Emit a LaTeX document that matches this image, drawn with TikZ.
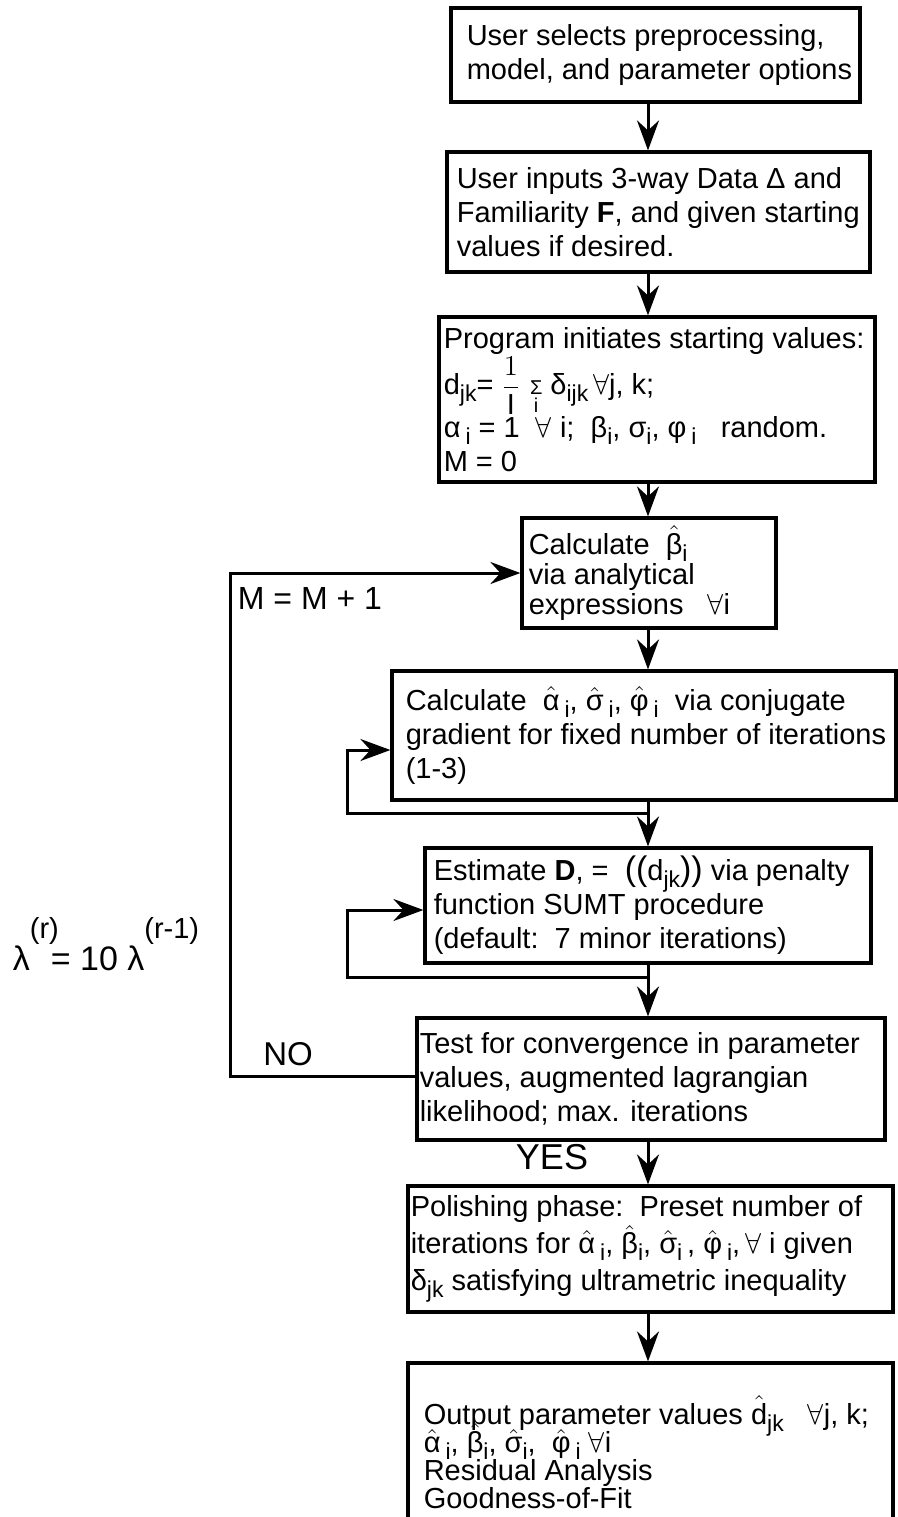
\documentclass[tikz,border=0pt]{standalone}
\usepackage{fontspec}
\setmainfont{Liberation Sans}
\usepackage{tikz}
\usetikzlibrary{arrows.meta,positioning}

\newcommand{\fa}{$\forall$}
\newcommand{\hatg}[1]{$\hat{\mbox{#1}}$}
\newcommand{\sbs}[1]{\raisebox{-3.5pt}{\fontsize{11.5}{11.5}\selectfont #1}}
\newcommand{\sbsp}[1]{\hspace{2.5pt}\sbs{#1}}
\newcommand{\supr}[1]{\raisebox{16pt}{\fontsize{14.5}{14.5}\selectfont #1}}

\tikzset{
  stage/.style={draw, line width=1.6pt, inner sep=0pt},
  stagetext/.style={inner sep=0pt, align=left, font=\fontsize{14.5}{17}\selectfont},
  flow/.style={line width=1.5pt, -{Stealth[length=15pt, width=11pt, inset=5pt]}},
}

\begin{document}
\begin{tikzpicture}[x=0.5pt, y=-0.5pt]
  \clip (0,0) rectangle (898,1517);
  \fill[white] (0,0) rectangle (898,1517);

  % Boxes of the main chain
  \node[stage, minimum width=204.5pt, minimum height=47pt] (b1) at (655.5,55) {};
  \node[stagetext, right=8.5pt of b1.west] (t1) {User selects preprocessing,\\model, and parameter options};

  \node[stage, minimum width=211.5pt, minimum height=60pt] (b2) at (658.5,212) {};
  \node[stagetext, right=5.5pt of b2.west] (t2) {User inputs 3-way Data Δ and\\Familiarity \textbf{F}, and given starting\\values if desired.};

  \node[stage, minimum width=218pt, minimum height=82.5pt] (b3) at (657,399.5) {};
  \node[stagetext, right=3pt of b3.west] (t3) {Program initiates starting values:\\
    d\sbs{jk}= $\displaystyle\frac{1}{\mathrm{I}}\,\mathop{\mbox{\fontsize{10}{10}\selectfont Σ}}\limits_{\mbox{\fontsize{10}{10}\selectfont i}}$ δ\sbs{ijk}\,\fa j, k;\\
    α\sbsp{i} = 1\ \ \fa{} i;\ \ β\sbs{i}, σ\sbs{i}, φ\sbsp{i}\ \ \ random.\\
    M = 0};

  \node[stage, minimum width=127pt, minimum height=55pt] (b4) at (649,573) {};
  \node[stagetext, right=4pt of b4.west, font=\fontsize{14.5}{15}\selectfont] (t4) {Calculate\ \ \hatg{β}\sbs{i}\\via analytical\\expressions\ \ \ \fa i};

  \node[stage, minimum width=252pt, minimum height=64.5pt] (b5) at (644,735.5) {};
  \node[stagetext, right=7.5pt of b5.west] (t5) {Calculate\ \ \hatg{α}\sbsp{i}, \hatg{σ}\sbsp{i}, \hatg{φ}\sbsp{i}\ \ via conjugate\\gradient for fixed number of iterations\\(1-3)};

  \node[stage, minimum width=223pt, minimum height=57.5pt] (b6) at (648,905.5) {};
  \node[stagetext, right=5pt of b6.west] (t6) {Estimate \textbf{D}, =\ \ {\fontsize{17}{17}\selectfont((}d\sbs{jk}{\fontsize{17}{17}\selectfont))} via penalty\\function SUMT procedure\\(default:\ \ 7 minor iterations)};

  \node[stage, minimum width=234pt, minimum height=61pt] (b7) at (651,1079) {};
  \node[stagetext, right=2pt of b7.west] (t7) {Test for convergence in parameter\\values, augmented lagrangian\\likelihood; max. iterations};

  \node[stage, minimum width=242.5pt, minimum height=63pt] (b8) at (650.5,1249) {};
  \node[stagetext, right=2pt of b8.west, font=\fontsize{14.5}{18.5}\selectfont] (t8) {Polishing phase:\ \ Preset number of\\iterations for \hatg{α}\sbsp{i},\ \hatg{β}\sbs{i},\ \hatg{σ}\sbs{i}\,, \hatg{φ}\sbsp{i},\,\fa{} i given\\δ\sbs{jk} satisfying ultrametric inequality};

  \node[stage, minimum width=242.5pt, minimum height=88.5pt] (b9) at (650.5,1451.5) {};
  \node[stagetext, below right=17pt and 8.5pt of b9.north west, anchor=north west,
        font={\fontsize{14.5}{14}\selectfont\lineskiplimit=-20pt}] (t9) {Output parameter values \hatg{d}\sbs{jk}\ \ \ \fa j, k;\\
    \hatg{α}\sbsp{i}, \hatg{β}\sbs{i},\ \hatg{σ}\sbs{i},\ \ \hatg{φ}\sbsp{i} \fa i\\
    Residual Analysis\\Goodness-of-Fit};

  % Side labels
  \node[stagetext, font=\fontsize{16}{18}\selectfont] (inc) at (310,598) {M = M + 1};
  \node[stagetext, font=\fontsize{16.5}{18}\selectfont] (no) at (288,1054) {NO};
  \node[stagetext, font=\fontsize{18}{20}\selectfont] (yes) at (552,1157) {YES};
  \node[stagetext, font=\fontsize{17}{18}\selectfont] (lam) at (106,944) {λ\supr{(r)}\hspace{-4pt}= 10 λ\supr{(r-1)}};

  % Main chain arrows
  \coordinate (ax) at (648,0);
  \draw[flow] (b1.south -| ax) -- (b2.north -| ax);
  \draw[flow] (b2.south -| ax) -- (b3.north -| ax);
  \draw[flow] (b3.south -| ax) -- (b4.north -| ax);
  \draw[flow] (b4.south -| ax) -- (b5.north -| ax);
  \draw[flow] (b5.south -| ax) -- (b6.north -| ax);
  \draw[flow] (b6.south -| ax) -- (b7.north -| ax);
  \draw[flow] (b7.south -| ax) -- (b8.north -| ax);
  \draw[flow] (b8.south -| ax) -- (b9.north -| ax);

  % Inner loops
  \coordinate (j5) at (648,813);
  \coordinate (e5) at (347,750);
  \draw[flow] (j5) -| (e5) -- (e5 -| b5.west);
  \coordinate (j6) at (648,977);
  \coordinate (e6) at (347,910);
  \draw[flow] (j6) -| (e6) -- (e6 -| b6.west);

  % Outer loop
  \coordinate (e7) at (230,1076);
  \draw[flow] (b7.west |- e7) -- (e7) |- (b4.west);
\end{tikzpicture}
\end{document}
